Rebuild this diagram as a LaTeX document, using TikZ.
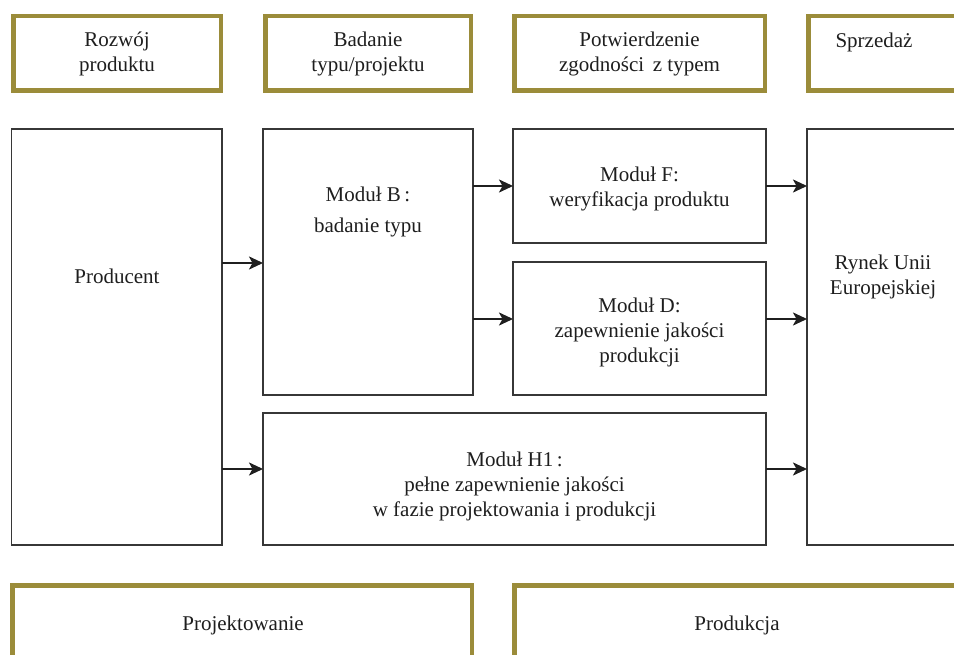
\documentclass[tikz,border=0pt]{standalone}
\usepackage{fontspec}
\setmainfont{Liberation Serif}
\usetikzlibrary{arrows.meta}
\definecolor{goldframe}{RGB}{155,140,58}
\definecolor{boxline}{RGB}{55,55,55}
\definecolor{txt}{RGB}{30,30,30}
\begin{document}
\begin{tikzpicture}[x=1pt,y=-1pt,
  every node/.style={font=\fontsize{21}{25}\selectfont, text=txt, align=center, inner sep=0pt, outer sep=0pt},
  hdr/.style={draw=goldframe, line width=4.5pt, fill=white, rectangle},
  mbox/.style={draw=boxline, line width=1.5pt, rectangle},
  arr/.style={draw=black!88, line width=2.2pt, -{Stealth[length=14pt,width=13pt,inset=3.5pt]}}]
\useasboundingbox (0,0) rectangle (954,655);
\clip (0,0) rectangle (954,655);
% header boxes
\node[hdr, minimum width=207.5pt, minimum height=74.5pt] (hA) at (117,53.5) {Rozwój\\produktu};
\node[hdr, minimum width=205.5pt, minimum height=74.5pt] (hB) at (368,53.5) {Badanie\\typu/projektu};
\node[hdr, minimum width=250.5pt, minimum height=74.5pt] (hC) at (639.5,53.5) {Potwierdzenie\\zgodności\, z typem};
\node[hdr, minimum width=169.5pt, minimum height=74.5pt] (hD) at (893,53.5) {};
\node (hDt) at (874,42) {Sprzedaż};
% main boxes
\node[mbox, minimum width=210.5pt, minimum height=416pt] (prod) at (116.75,337) {};
\node (prodt) at (117,276) {Producent};
\node[mbox, minimum width=210pt, minimum height=266pt] (modB) at (368,262) {};
\node (modBt) at (368,212) {Moduł B\,:\\[6pt]badanie typu};
\node[mbox, minimum width=253pt, minimum height=114pt] (modF) at (639.5,186) {};
\node (modFt) at (639.5,189) {Moduł F:\\weryfikacja produktu};
\node[mbox, minimum width=253pt, minimum height=133pt] (modD) at (639.5,328.5) {};
\node (modDt) at (639.5,332) {Moduł D:\\zapewnienie jakości\\produkcji};
\node[mbox, minimum width=503pt, minimum height=132pt] (modH) at (514.5,479) {};
\node (modHt) at (514.5,486) {Moduł H1\,:\\pełne zapewnienie jakości\\w fazie projektowania i produkcji};
\node[mbox, minimum width=183pt, minimum height=416pt] (rynek) at (898.5,337) {};
\node (rynekt) at (883,277) {Rynek Unii\\Europejskiej};
% bottom boxes
\node[hdr, minimum width=459.5pt, minimum height=112.5pt] (bA) at (242,641.5) {};
\node (bAt) at (243,625) {Projektowanie};
\node[hdr, minimum width=463.5pt, minimum height=112.5pt] (bB) at (746,641.5) {};
\node (bBt) at (737,625) {Produkcja};
% arrows
\draw[arr] (prod.east |- 0,263) -- (modB.west |- 0,263);
\draw[arr] (prod.east |- 0,469) -- (modH.west |- 0,469);
\draw[arr] (modB.east |- 0,186) -- (modF.west |- 0,186);
\draw[arr] (modB.east |- 0,319) -- (modD.west |- 0,319);
\draw[arr] (modF.east |- 0,186) -- (rynek.west |- 0,186);
\draw[arr] (modD.east |- 0,319) -- (rynek.west |- 0,319);
\draw[arr] (modH.east |- 0,469) -- (rynek.west |- 0,469);
\end{tikzpicture}
\end{document}
